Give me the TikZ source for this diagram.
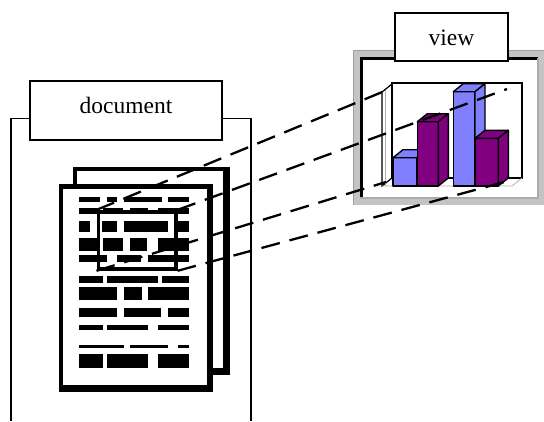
\documentclass[tikz,border=0pt]{standalone}
\usepackage{fontspec}
\setmainfont{Liberation Serif}
\definecolor{chartblue}{RGB}{128,128,255}
\definecolor{chartpurple}{RGB}{128,0,128}
\definecolor{winband}{RGB}{196,196,196}
% one 3-D column: front face, top face and right side face
\newcommand\chartbar[4]{%
  \filldraw[barface, fill=#4] (#1,186) rectangle (#2,#3);
  \filldraw[barface, fill=#4] (#1,#3) -- (#2,#3) -- ++(10,-8) -- ++({#1-#2},0) -- cycle;
  \filldraw[barface, fill=#4] (#2,#3) -- ++(10,-8) -- ({#2+10},178) -- (#2,186) -- cycle;
}
\begin{document}
\begin{tikzpicture}[x=1pt,y=-1pt,
  labelbox/.style={draw=black, line width=1.2pt, fill=white, inner sep=0pt,
    font=\fontsize{23.5}{28}\selectfont},
  frameline/.style={line width=1.2pt},
  zoomframe/.style={draw=black, line width=3.6pt, inner sep=0pt},
  zoomline/.style={dash pattern=on 19pt off 10pt, line width=2.3pt},
  barface/.style={draw=black, line width=1.4pt, line join=round},
]
\useasboundingbox (0,0) rectangle (544,421);
\fill[white] (0,0) rectangle (544,421);

% ---- document frame with its label
\draw[frameline] (11,421) -- (11,118.5) -- (251,118.5) -- (251,421);
\node[labelbox, minimum width=192pt, minimum height=59pt,
      text height=16pt, text depth=10pt] (doclabel) at (126,110.5) {document};

% ---- two stacked pages
\fill[black] (73,167) rectangle (230,374.5);
\fill[white] (76.5,171) rectangle (223,368);
\fill[black] (59,184) rectangle (212.5,392);
\fill[white] (63,189) rectangle (206.5,384.5);

% ---- lines of text on the front page
\foreach \ya/\yb/\xs in {
  197/202/{79/99.5,107/117,124/161.5,168/189},
  208/214/{79/97,103/123,130/148,158/189},
  221/231.5/{79/90,102/117,124/168,178/189},
  238/251/{79/97,103/123,130/147,158/189},
  255/261.5/{79/107,117/141,148/189},
  276/282.5/{79/103,107/158,162/189},
  286.5/300/{79/117,124/141.5,148/189},
  307.5/316.5/{79/117,124/161,168/189},
  324.5/330/{79/103,107/148,158/189},
  344.5/348/{79/124,130/168,178/189},
  354/367.5/{79/103,107/148,158/189}}{
  \foreach \xa/\xb in \xs {\fill[black] (\xa,\ya) rectangle (\xb,\yb);}
}

% ---- selected region
\node[zoomframe, minimum width=77.4pt, minimum height=57.3pt] (zoombox) at (137,240.35) {};

% ---- view window
\fill[winband] (353,50) rectangle (550,205);
\draw[gray!75, line width=0.8pt] (353.4,205) -- (353.4,50.4) -- (550,50.4);
\fill[white] (360,57) rectangle (538,198);
\draw[black, line width=2.5pt] (361.3,198) -- (361.3,58.3) -- (538,58.3);
\draw[gray!65, line width=1.2pt] (538,58) -- (538,198) -- (360,198);
\node[labelbox, minimum width=113pt, minimum height=48pt,
      text height=17pt, text depth=0pt] (viewlabel) at (451.5,37) {view};

% ---- 3-D column chart
\filldraw[fill=white, draw=black, line width=1.2pt] (382,186) -- (382,92) -- (392,84) -- (392,178) -- cycle;
\draw[gray!60, line width=0.8pt] (385,186) -- (385,90);
\filldraw[fill=white, draw=black, line width=1.2pt] (392,83) rectangle (522,178);
\draw[gray!60, line width=0.8pt] (382,186) -- (512,186) -- (522,178);
\chartbar{393}{417}{157.7}{chartblue}
\chartbar{417.3}{438.3}{121.7}{chartpurple}
\chartbar{453.3}{475}{91.7}{chartblue}
\chartbar{475}{498.3}{138.3}{chartpurple}

\coordinate (plotTL) at (392,88);
\coordinate (plotTR) at (507,89);
\coordinate (plotBL) at (386,182);
\coordinate (plotBR) at (508,181);

% ---- projection lines from the selected region to the view
\draw[zoomline] (zoombox.north west) -- (plotTL);
\draw[zoomline] (zoombox.north east) -- (plotTR);
\draw[zoomline] (zoombox.south west) -- (plotBL);
\draw[zoomline] (zoombox.south east) -- (plotBR);
\end{tikzpicture}
\end{document}
